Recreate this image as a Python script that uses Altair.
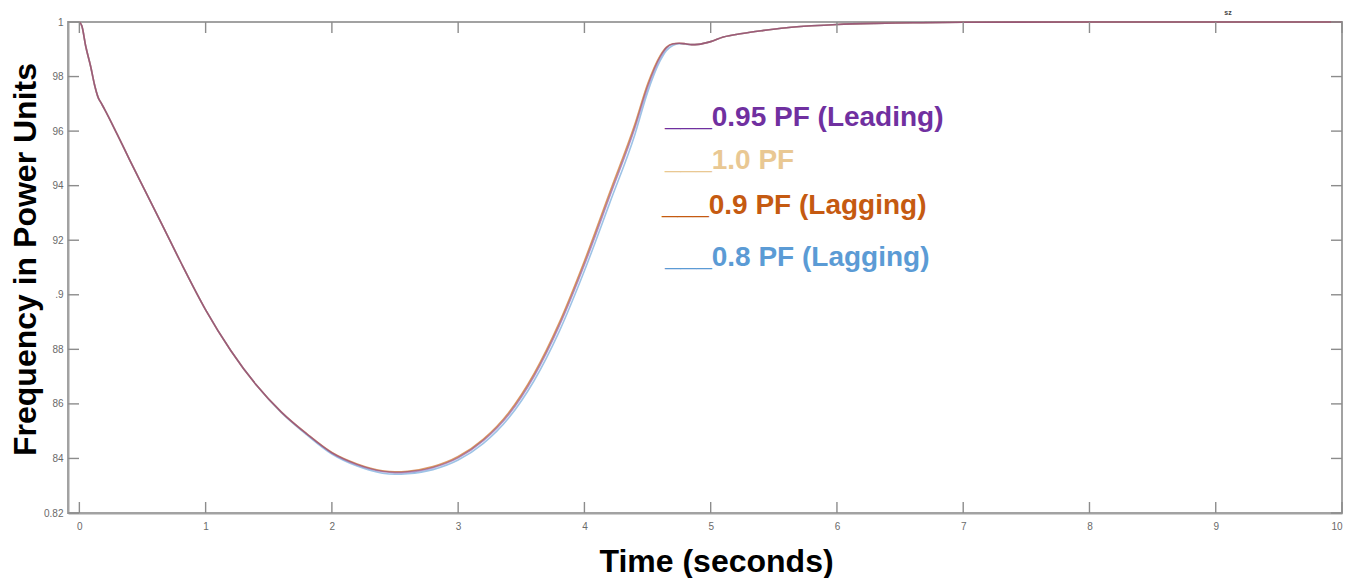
import altair as alt
import pandas as pd

# ---------------- data ----------------
TIME = [0, 0.02, 0.05, 0.09, 0.12, 0.15, 0.17, 0.2,
        0.3, 0.4, 0.5, 0.65, 0.8,
        1.0, 1.2, 1.4, 1.6, 1.8,
        2.0, 2.2, 2.4, 2.5, 2.6, 2.8,
        3.0, 3.2, 3.4, 3.6, 3.8,
        4.0, 4.2, 4.4, 4.5, 4.6, 4.65, 4.7, 4.75, 4.8, 4.85, 4.9,
        5.0, 5.1, 5.25, 5.4, 5.6, 5.8,
        6.0, 6.3, 6.6, 7.0,
        8.0, 9.0, 10.0]

PF_095_LEAD = [1.0, 0.9985, 0.9912, 0.9836, 0.9770, 0.9722, 0.9705, 0.9680,
               0.9588, 0.9493, 0.9400, 0.9262, 0.9122,
               0.8945, 0.8795, 0.8670, 0.8570, 0.8490,
               0.8420, 0.8377, 0.8352, 0.8348, 0.8350, 0.8366,
               0.8402, 0.8465, 0.8560, 0.8700, 0.8885,
               0.9110, 0.9360, 0.9612, 0.9760, 0.9870, 0.9905, 0.9919, 0.9922, 0.9920, 0.9917, 0.9918,
               0.9928, 0.9945, 0.9958, 0.9968, 0.9979, 0.9986,
               0.9991, 0.9995, 0.9997, 0.9999,
               1.0, 1.0, 1.0]

PF_100 = [1.0, 0.9985, 0.9912, 0.9836, 0.9770, 0.9722, 0.9705, 0.9680,
          0.9588, 0.9493, 0.9400, 0.9262, 0.9122,
          0.8945, 0.8795, 0.8670, 0.8570, 0.8490,
          0.8421, 0.8378, 0.8353, 0.8349, 0.8351, 0.8368,
          0.8404, 0.8468, 0.8564, 0.8705, 0.8891,
          0.9117, 0.9367, 0.9619, 0.9766, 0.9874, 0.9906, 0.9919, 0.9922, 0.9920, 0.9917, 0.9918,
          0.9928, 0.9945, 0.9958, 0.9968, 0.9979, 0.9986,
          0.9991, 0.9995, 0.9997, 0.9999,
          1.0, 1.0, 1.0]

PF_090_LAG = [1.0, 0.9985, 0.9912, 0.9836, 0.9770, 0.9722, 0.9705, 0.9680,
              0.9588, 0.9493, 0.9400, 0.9262, 0.9122,
              0.8945, 0.8795, 0.8670, 0.8570, 0.8491,
              0.8422, 0.8380, 0.8355, 0.8351, 0.8353, 0.8370,
              0.8407, 0.8471, 0.8568, 0.8710, 0.8897,
              0.9124, 0.9375, 0.9626, 0.9772, 0.9877, 0.9908, 0.9920, 0.9922, 0.9920, 0.9917, 0.9918,
              0.9928, 0.9945, 0.9958, 0.9968, 0.9979, 0.9986,
              0.9991, 0.9995, 0.9997, 0.9999,
              1.0, 1.0, 1.0]

PF_080_LAG = [1.0, 0.9985, 0.9912, 0.9836, 0.9770, 0.9722, 0.9705, 0.9680,
              0.9588, 0.9493, 0.9400, 0.9262, 0.9122,
              0.8945, 0.8795, 0.8670, 0.8568, 0.8487,
              0.8416, 0.8372, 0.8346, 0.8342, 0.8344, 0.8359,
              0.8394, 0.8455, 0.8548, 0.8684, 0.8865,
              0.9088, 0.9336, 0.9588, 0.9742, 0.9858, 0.9896, 0.9914, 0.9920, 0.9919, 0.9917, 0.9918,
              0.9928, 0.9945, 0.9958, 0.9968, 0.9979, 0.9986,
              0.9991, 0.9995, 0.9997, 0.9999,
              1.0, 1.0, 1.0]

# drawing order: bottom -> top
SERIES_NAMES = ["0.8 PF (Lagging)", "1.0 PF", "0.9 PF (Lagging)", "0.95 PF (Leading)"]
SERIES_VALUES = [PF_080_LAG, PF_100, PF_090_LAG, PF_095_LEAD]
SERIES_COLORS = ["#5B9BD5", "#E9C893", "#C55A11", "#7030A0"]
SERIES_OPACITY = [0.6, 0.6, 0.6, 0.5]

LEGEND_LABELS = ["___0.95 PF (Leading)", "___1.0 PF", "___0.9 PF (Lagging)", "___0.8 PF (Lagging)"]
LEGEND_COLORS = ["#7030A0", "#E9C893", "#C55A11", "#5B9BD5"]

X_TICKS = [0, 1, 2, 3, 4, 5, 6, 7, 8, 9, 10]
Y_TICKS = [0.82, 0.84, 0.86, 0.88, 0.90, 0.92, 0.94, 0.96, 0.98, 1.0]
Y_TICK_LABELS = ["0.82", "84", "86", "88", ".9", "92", "94", "96", "98", "1"]

# ---------------- layout ----------------
W, H = 1274, 491
FONT = "Liberation Sans"
FRAME = "#a2a2a2"
TICK_LEN = 11

x_scale = alt.Scale(domain=[-0.09, 10], nice=False, zero=False)
y_scale = alt.Scale(domain=[0.82, 1.0], nice=False, zero=False)

label_array = "[" + ",".join("'" + s + "'" for s in Y_TICK_LABELS) + "]"
y_label_expr = label_array + "[round((datum.value - 0.82) / 0.02)]"

x_axis = alt.Axis(values=X_TICKS, tickSize=0, grid=False, domainColor=FRAME, domainWidth=2,
                  labelColor="#6a6a6a", labelFontSize=10, labelFont=FONT, labelPadding=8,
                  title="Time (seconds)", titleFont=FONT, titleFontSize=32, titleFontWeight="bold",
                  titleColor="black", titleX=648, titleY=58, titleBaseline="alphabetic",
                  titleAlign="center")
y_axis = alt.Axis(values=Y_TICKS, labelExpr=y_label_expr, tickSize=0, grid=False,
                  domainColor=FRAME, domainWidth=2,
                  labelColor="#6a6a6a", labelFontSize=10, labelFont=FONT, labelPadding=5,
                  title="Frequency in Power Units", titleFont=FONT, titleFontSize=32,
                  titleFontWeight="bold", titleColor="black", titleAngle=270,
                  titleX=-33, titleY=237, titleBaseline="alphabetic", titleAlign="center")

X_ENC = dict(scale=x_scale, axis=x_axis, title="Time (seconds)")
Y_ENC = dict(scale=y_scale, axis=y_axis, title="Frequency in Power Units")

layers = []
for name, vals, col, op in zip(SERIES_NAMES, SERIES_VALUES, SERIES_COLORS, SERIES_OPACITY):
    d = pd.DataFrame({"time": TIME, "freq": vals, "series": name})
    layers.append(
        alt.Chart(d).mark_line(interpolate="monotone", strokeWidth=1.6,
                               color=col, opacity=op).encode(
            x=alt.X("time:Q", **X_ENC),
            y=alt.Y("freq:Q", **Y_ENC),
        )
    )

# inward tick marks on all four sides (MATLAB-style box)
xt = pd.DataFrame({"time": X_TICKS})
yt = pd.DataFrame({"freq": Y_TICKS})
tick_style = dict(color="#8c8c8c", strokeWidth=1.4)
layers.append(alt.Chart(xt).mark_rule(**tick_style).encode(
    x=alt.X("time:Q", **X_ENC), y=alt.value(H), y2=alt.value(H - TICK_LEN)))
layers.append(alt.Chart(xt).mark_rule(**tick_style).encode(
    x=alt.X("time:Q", **X_ENC), y=alt.value(0), y2=alt.value(TICK_LEN)))
layers.append(alt.Chart(yt).mark_rule(**tick_style).encode(
    y=alt.Y("freq:Q", **Y_ENC), x=alt.value(0), x2=alt.value(TICK_LEN)))
layers.append(alt.Chart(yt).mark_rule(**tick_style).encode(
    y=alt.Y("freq:Q", **Y_ENC), x=alt.value(W), x2=alt.value(W - TICK_LEN)))

# legend-like annotations
LEG_X = [597, 597, 594, 597]
LEG_Y = [104, 147, 192, 244]
for lab, col, lx, ly in zip(LEGEND_LABELS, LEGEND_COLORS, LEG_X, LEG_Y):
    layers.append(
        alt.Chart(pd.DataFrame({"label": [lab]})).mark_text(
            align="left", baseline="alphabetic", font=FONT, fontSize=28,
            fontWeight="bold", color=col).encode(
            text="label:N", x=alt.value(lx), y=alt.value(ly))
    )

# tiny stray label at the top right
layers.append(
    alt.Chart(pd.DataFrame({"label": ["sz"]})).mark_text(
        align="center", baseline="middle", font=FONT, fontSize=7, fontWeight="bold",
        color="#444444").encode(text="label:N", x=alt.value(1160), y=alt.value(-9))
)

chart = alt.layer(*layers).properties(
    width=W, height=H,
    autosize=alt.AutoSizeParams(type="none"),
    padding={"left": 68, "top": 22, "right": 20, "bottom": 65},
    background="white",
).configure_view(stroke=FRAME, strokeWidth=2)

chart.save("out.html", embed_options={"renderer": "svg", "actions": False})
